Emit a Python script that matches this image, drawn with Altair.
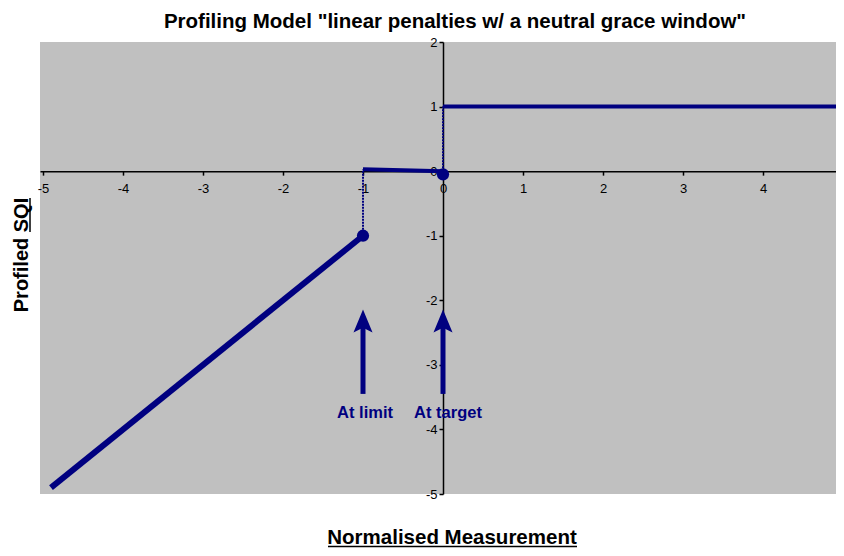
import altair as alt
import pandas as pd

# ---- data ----
diag_x = [-4.9, -1.0]
diag_y = [-4.9, -1.0]
grace_x = [-1.0, 0.0]
grace_y = [0.03, 0.0]
pass_x = [0.0, 5.0]
pass_y = [1.0, 1.0]
step_x = [-1.0, 0.0]
step_lo = [-1.0, 0.0]
step_hi = [0.03, 1.0]
dot_x = [-1.0, 0.0]
dot_y = [-1.0, -0.05]
arrow_x = [-1.0, 0.0]
arrow_tail = [-3.45, -3.45]
arrow_neck = [-2.4, -2.4]
arrow_head = [-2.32, -2.32]
label_text = ["At limit", "At target"]
label_y = [-3.75, -3.75]
x_ticks = list(range(-5, 6))
y_ticks = list(range(-5, 3))

NAVY = "#000080"
FONT = "Liberation Sans"
W, H = 796, 452
X_DOM = [-5.0375, 4.9125]
Y_DOM = [-5, 2]

# pixel position of the zero lines, used to make the axes cross at the origin
x_zero_px = W * (0 - X_DOM[0]) / (X_DOM[1] - X_DOM[0])
y_zero_px = H * (Y_DOM[1] - 0) / (Y_DOM[1] - Y_DOM[0])

xs = alt.Scale(domain=X_DOM, nice=False, zero=False)
ys = alt.Scale(domain=Y_DOM, nice=False, zero=False)

LABEL_EXPR = "'' + datum.value"

x_axis = alt.Axis(values=x_ticks, offset=-(H - y_zero_px), grid=False, title=None,
                  labelExpr=LABEL_EXPR, domainColor="black", domainWidth=1.5,
                  tickColor="black", tickWidth=1.5, tickSize=4, labelFont=FONT,
                  labelFontSize=13, labelColor="black", labelPadding=7,
                  labelFlush=False, labelOverlap=False)
y_axis = alt.Axis(values=y_ticks, offset=-x_zero_px, grid=False, title=None,
                  labelExpr=LABEL_EXPR, domainColor="black", domainWidth=1.5,
                  tickColor="black", tickWidth=1.5, tickSize=4, labelFont=FONT,
                  labelFontSize=13, labelColor="black", labelPadding=2,
                  labelFlush=False, labelOverlap=False)

diag = pd.DataFrame({"x": diag_x, "y": diag_y})
grace = pd.DataFrame({"x": grace_x, "y": grace_y})
passd = pd.DataFrame({"x": pass_x, "y": pass_y})
steps = pd.DataFrame({"x": step_x, "y": step_lo, "y2": step_hi})
dots = pd.DataFrame({"x": dot_x, "y": dot_y})
arrows = pd.DataFrame({"x": arrow_x, "tail": arrow_tail, "neck": arrow_neck,
                       "head": arrow_head, "label": label_text, "ly": label_y})

l_diag = alt.Chart(diag).mark_line(color=NAVY, strokeWidth=6, clip=True).encode(
    x=alt.X("x:Q", scale=xs, axis=x_axis),
    y=alt.Y("y:Q", scale=ys, axis=y_axis),
)
l_grace = alt.Chart(grace).mark_line(color=NAVY, strokeWidth=4).encode(
    x=alt.X("x:Q", scale=xs), y=alt.Y("y:Q", scale=ys))
l_pass = alt.Chart(passd).mark_line(color=NAVY, strokeWidth=4, clip=True).encode(
    x=alt.X("x:Q", scale=xs), y=alt.Y("y:Q", scale=ys))
l_steps = alt.Chart(steps).mark_rule(color=NAVY, strokeWidth=2, strokeDash=[2, 1]).encode(
    x=alt.X("x:Q", scale=xs), y=alt.Y("y:Q", scale=ys), y2="y2:Q")
l_dots = alt.Chart(dots).mark_point(filled=True, shape="circle", size=150,
                                    color=NAVY, opacity=1, dx=1).encode(
    x=alt.X("x:Q", scale=xs), y=alt.Y("y:Q", scale=ys))
l_shaft = alt.Chart(arrows).mark_rule(color=NAVY, strokeWidth=5).encode(
    x=alt.X("x:Q", scale=xs), y=alt.Y("tail:Q", scale=ys), y2="neck:Q")
l_head = alt.Chart(arrows).mark_point(filled=True, opacity=1, color=NAVY,
                                      shape="M0,-1L0.83,1L0,0.6L-0.83,1Z",
                                      size=529).encode(
    x=alt.X("x:Q", scale=xs), y=alt.Y("head:Q", scale=ys))


def arrow_label(name, shift):
    return alt.Chart(arrows).transform_filter(
        alt.datum.label == name
    ).mark_text(color=NAVY, font=FONT, fontSize=16.5, fontWeight="bold",
                dx=shift).encode(
        x=alt.X("x:Q", scale=xs), y=alt.Y("ly:Q", scale=ys), text="label:N")


l_lab1 = arrow_label(label_text[0], 2)
l_lab2 = arrow_label(label_text[1], 5)

# axis titles (underlined words as in the reference)
xt = alt.Chart(pd.DataFrame({"t": ["Normalised Measurement"]})).mark_text(
    font=FONT, fontSize=20.5, fontWeight="bold", color="black", baseline="alphabetic"
).encode(text="t:N", x=alt.value(412), y=alt.value(502))
xt_u = alt.Chart(pd.DataFrame({"t": [0]})).mark_rule(color="black", strokeWidth=1.5).encode(
    x=alt.value(288), x2=alt.value(537), y=alt.value(504.5))
yt = alt.Chart(pd.DataFrame({"t": ["Profiled SQI"]})).mark_text(
    font=FONT, fontSize=20, fontWeight="bold", color="black", angle=270,
    baseline="alphabetic"
).encode(text="t:N", x=alt.value(-12), y=alt.value(213))
yt_u = alt.Chart(pd.DataFrame({"t": [0]})).mark_rule(color="black", strokeWidth=1.5).encode(
    y=alt.value(156), y2=alt.value(190), x=alt.value(-10))

chart = alt.layer(l_diag, l_grace, l_pass, l_steps, l_dots, l_shaft, l_head,
                  l_lab1, l_lab2, xt, xt_u, yt, yt_u).properties(
    width=W, height=H,
    background="white",
    title=alt.TitleParams('Profiling Model "linear penalties w/ a neutral grace window"',
                          font=FONT, fontSize=20.5, fontWeight="bold", color="black",
                          anchor="middle", dx=17, offset=4),
    autosize=alt.AutoSizeParams(type="none"),
    padding={"left": 32, "top": 34, "right": 0, "bottom": 54},
).configure_view(fill="#C0C0C0", strokeWidth=0)

chart.save("out.html", embed_options={"renderer": "svg", "actions": False})
